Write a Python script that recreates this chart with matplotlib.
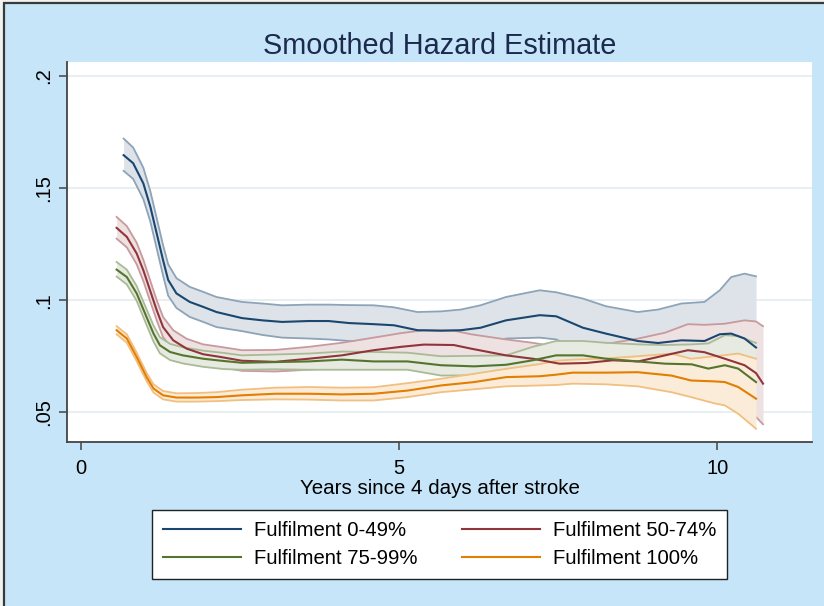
import matplotlib
matplotlib.use("Agg")
import matplotlib.pyplot as plt
from matplotlib.patches import Rectangle
from matplotlib.colors import to_rgb

plt.rcParams['font.family'] = ['Liberation Sans', 'DejaVu Sans']

# Fulfilment 0-49%
t_a = [0.67, 0.82, 0.98, 1.09, 1.19, 1.29, 1.37, 1.50, 1.71, 1.92, 2.13, 2.53, 2.85, 3.16, 3.58,
       3.89, 4.21, 4.60, 4.92, 5.29, 5.66, 5.97, 6.28, 6.68, 7.21, 7.47, 7.89, 8.25, 8.75, 9.07,
       9.44, 9.80, 10.04, 10.22, 10.43, 10.61]
h_a = [0.1646, 0.1610, 0.1520, 0.1416, 0.1297, 0.1178, 0.1090, 0.1030, 0.0992, 0.0970, 0.0947,
       0.0920, 0.0910, 0.0903, 0.0907, 0.0907, 0.0898, 0.0893, 0.0888, 0.0866, 0.0864, 0.0866,
       0.0877, 0.0910, 0.0933, 0.0928, 0.0877, 0.0851, 0.0818, 0.0809, 0.0821, 0.0818, 0.0848,
       0.0851, 0.0829, 0.0789]
hi_a = [0.1720, 0.1680, 0.1590, 0.1485, 0.1365, 0.1245, 0.1160, 0.1098, 0.1059, 0.1037, 0.1014,
        0.0992, 0.0985, 0.0977, 0.0980, 0.0980, 0.0978, 0.0977, 0.0968, 0.0947, 0.0950, 0.0958,
        0.0977, 0.1014, 0.1044, 0.1035, 0.1007, 0.0973, 0.0947, 0.0958, 0.0985, 0.0992, 0.1044,
        0.1103, 0.1118, 0.1106]
lo_a = [0.1576, 0.1540, 0.1450, 0.1350, 0.1230, 0.1110, 0.1020, 0.0965, 0.0925, 0.0903, 0.0880,
        0.0862, 0.0845, 0.0833, 0.0829, 0.0825, 0.0818, 0.0814, 0.0808, 0.0790, 0.0782, 0.0780,
        0.0790, 0.0829, 0.0833, 0.0825, 0.0770, 0.0740, 0.0710, 0.0700, 0.0700, 0.0700, 0.0710,
        0.0700, 0.0680, 0.0660]

# Fulfilment 50-74%
t_b = [0.56, 0.72, 0.875, 0.98, 1.085, 1.19, 1.29, 1.45, 1.66, 1.92, 2.19, 2.53, 3.05, 3.58, 4.10,
       4.60, 5.03, 5.39, 5.86, 6.13, 6.68, 7.10, 7.52, 7.94, 8.36, 8.76, 9.18, 9.54, 9.80, 10.12,
       10.43, 10.61, 10.72]
h_b = [0.1322, 0.1282, 0.1208, 0.1133, 0.1044, 0.0955, 0.0880, 0.0821, 0.0784, 0.0759, 0.0747,
       0.0730, 0.0725, 0.0739, 0.0754, 0.0777, 0.0792, 0.0802, 0.0800, 0.0784, 0.0754, 0.0739,
       0.0717, 0.0720, 0.0732, 0.0727, 0.0754, 0.0777, 0.0768, 0.0739, 0.0710, 0.0675, 0.0628]
hi_b = [0.1371, 0.1330, 0.1256, 0.1180, 0.1090, 0.1000, 0.0925, 0.0866, 0.0828, 0.0803, 0.0792,
        0.0777, 0.0778, 0.0792, 0.0810, 0.0833, 0.0853, 0.0866, 0.0864, 0.0848, 0.0825, 0.0810,
        0.0790, 0.0795, 0.0810, 0.0829, 0.0855, 0.0893, 0.0890, 0.0895, 0.0910, 0.0905, 0.0884]
lo_b = [0.1274, 0.1235, 0.1160, 0.1085, 0.0997, 0.0910, 0.0835, 0.0776, 0.0740, 0.0714, 0.0702,
        0.0685, 0.0682, 0.0690, 0.0700, 0.0720, 0.0732, 0.0740, 0.0738, 0.0722, 0.0690, 0.0672,
        0.0648, 0.0650, 0.0658, 0.0650, 0.0668, 0.0680, 0.0660, 0.0620, 0.0560, 0.0479, 0.0447]

# Fulfilment 75-99%
t_c = [0.56, 0.72, 0.875, 1.03, 1.14, 1.24, 1.40, 1.60, 1.92, 2.24, 2.53, 3.05, 3.58, 4.10, 4.60,
       5.13, 5.66, 6.18, 6.68, 7.10, 7.47, 7.89, 8.25, 8.75, 9.18, 9.60, 9.86, 10.12, 10.33, 10.61]
h_c = [0.1136, 0.1103, 0.1030, 0.0925, 0.0851, 0.0799, 0.0769, 0.0754, 0.0739, 0.0729, 0.0721,
       0.0724, 0.0727, 0.0735, 0.0727, 0.0727, 0.0710, 0.0705, 0.0712, 0.0732, 0.0754, 0.0754,
       0.0739, 0.0727, 0.0717, 0.0714, 0.0695, 0.0710, 0.0695, 0.0635]
hi_c = [0.1170, 0.1136, 0.1063, 0.0960, 0.0887, 0.0835, 0.0805, 0.0790, 0.0775, 0.0765, 0.0754,
        0.0758, 0.0762, 0.0771, 0.0769, 0.0766, 0.0750, 0.0752, 0.0754, 0.0792, 0.0818, 0.0818,
        0.0810, 0.0803, 0.0800, 0.0803, 0.0807, 0.0844, 0.0840, 0.0809]
lo_c = [0.1105, 0.1070, 0.0997, 0.0890, 0.0815, 0.0763, 0.0733, 0.0718, 0.0703, 0.0693, 0.0690,
        0.0692, 0.0690, 0.0690, 0.0690, 0.0690, 0.0664, 0.0665, 0.0668, 0.0690, 0.0703, 0.0700,
        0.0690, 0.0670, 0.0660, 0.0650, 0.0630, 0.0640, 0.0620, 0.0560]

# Fulfilment 100%
t_d = [0.56, 0.72, 0.875, 1.03, 1.14, 1.29, 1.50, 1.82, 2.13, 2.53, 3.05, 3.58, 4.10, 4.60, 5.13,
       5.66, 6.18, 6.68, 7.21, 7.47, 7.73, 8.25, 8.75, 9.28, 9.59, 9.96, 10.12, 10.33, 10.61]
h_d = [0.0866, 0.0829, 0.0747, 0.0658, 0.0606, 0.0576, 0.0566, 0.0566, 0.0568, 0.0576, 0.0583,
       0.0583, 0.0580, 0.0583, 0.0597, 0.0620, 0.0635, 0.0657, 0.0661, 0.0668, 0.0677, 0.0677,
       0.0679, 0.0664, 0.0642, 0.0638, 0.0635, 0.0613, 0.0561]
hi_d = [0.0884, 0.0848, 0.0766, 0.0677, 0.0625, 0.0595, 0.0585, 0.0586, 0.0590, 0.0601, 0.0610,
        0.0613, 0.0610, 0.0612, 0.0630, 0.0650, 0.0672, 0.0694, 0.0715, 0.0730, 0.0735, 0.0740,
        0.0750, 0.0762, 0.0739, 0.0750, 0.0755, 0.0762, 0.0739]
lo_d = [0.0848, 0.0810, 0.0728, 0.0640, 0.0588, 0.0558, 0.0548, 0.0548, 0.0550, 0.0555, 0.0558,
        0.0557, 0.0553, 0.0553, 0.0568, 0.0590, 0.0603, 0.0616, 0.0620, 0.0622, 0.0628, 0.0625,
        0.0616, 0.0590, 0.0568, 0.0540, 0.0531, 0.0494, 0.0427]

labels = ["Fulfilment 0-49%", "Fulfilment 50-74%", "Fulfilment 75-99%", "Fulfilment 100%"]
colors = ["#1a476f", "#90353b", "#55752f", "#e37e00"]
yticks = [0.05, 0.1, 0.15, 0.2]
ytick_labels = [".05", ".1", ".15", ".2"]
xticks = [0, 5, 10]


def tint(c, f):
    r, g, b = to_rgb(c)
    return (1 - f * (1 - r), 1 - f * (1 - g), 1 - f * (1 - b))


fig = plt.figure(figsize=(8.24, 6.06), dpi=100, facecolor="#f2f2f2")
fig.patches.append(Rectangle((3.5 / 824, -0.1), 1.2, 1.1 - 3.5 / 606, transform=fig.transFigure,
                             facecolor="#c6e5f8", edgecolor="#3a3a3a", lw=1.6, zorder=-10))

ax = fig.add_axes([67 / 824, 1 - 442 / 606, (812 - 67) / 824, (442 - 62) / 606])
ax.set_facecolor("white")

series = [(t_a, h_a, lo_a, hi_a), (t_b, h_b, lo_b, hi_b), (t_c, h_c, lo_c, hi_c), (t_d, h_d, lo_d, hi_d)]

# bands first (opaque, drawn in order), then the estimates on top
for (t, h, lo, hi), c in zip(series, colors):
    ax.fill_between(t, lo, hi, color=tint(c, 0.15), lw=0, zorder=2)
    ax.plot(t, lo, color=tint(c, 0.5), lw=1.3, zorder=2)
    ax.plot(t, hi, color=tint(c, 0.5), lw=1.3, zorder=2)

handles = []
for (t, h, lo, hi), c, lab in zip(series, colors, labels):
    ln, = ax.plot(t, h, color=c, lw=1.5, zorder=3, label=lab)
    handles.append(ln)

ax.set_xlim(-0.22, 11.49)
ax.set_ylim(0.0368, 0.2061)
ax.set_yticks(yticks)
ax.set_yticklabels(ytick_labels, rotation=90, va="center")
ax.set_xticks(xticks)
ax.grid(axis="y", color="#e6eef1", lw=1.3, zorder=1)
ax.set_axisbelow(True)

for s in ["top", "right"]:
    ax.spines[s].set_visible(False)
for s in ["left", "bottom"]:
    ax.spines[s].set_color("#444444")
    ax.spines[s].set_linewidth(1.3)
ax.tick_params(axis="both", colors="#444444", labelcolor="black", labelsize=14.5,
               length=6, width=1.1)
ax.tick_params(axis="y", pad=4)
ax.tick_params(axis="x", pad=6)

ax.set_xlabel("Years since 4 days after stroke", fontsize=14.8, labelpad=1)
ax.set_title("Smoothed Hazard Estimate", fontsize=20.8, color="#1c2a4e", pad=6)

# row-wise legend order: 0-49 | 50-74 / 75-99 | 100
order = [0, 2, 1, 3]
leg = fig.legend([handles[i] for i in order], [labels[i] for i in order], loc="center",
                 bbox_to_anchor=(439.5 / 824, 1 - 544.5 / 606),
                 ncol=2, fontsize=14.6, frameon=True, fancybox=False, framealpha=1,
                 handlelength=3.85, handletextpad=0.64, columnspacing=2.2, borderpad=0.55,
                 labelspacing=0.42)
leg.get_frame().set_edgecolor("#222222")
leg.get_frame().set_linewidth(1.0)
leg.get_frame().set_facecolor("white")

plt.savefig("out.png", dpi=100, facecolor=fig.get_facecolor())
plt.close()
